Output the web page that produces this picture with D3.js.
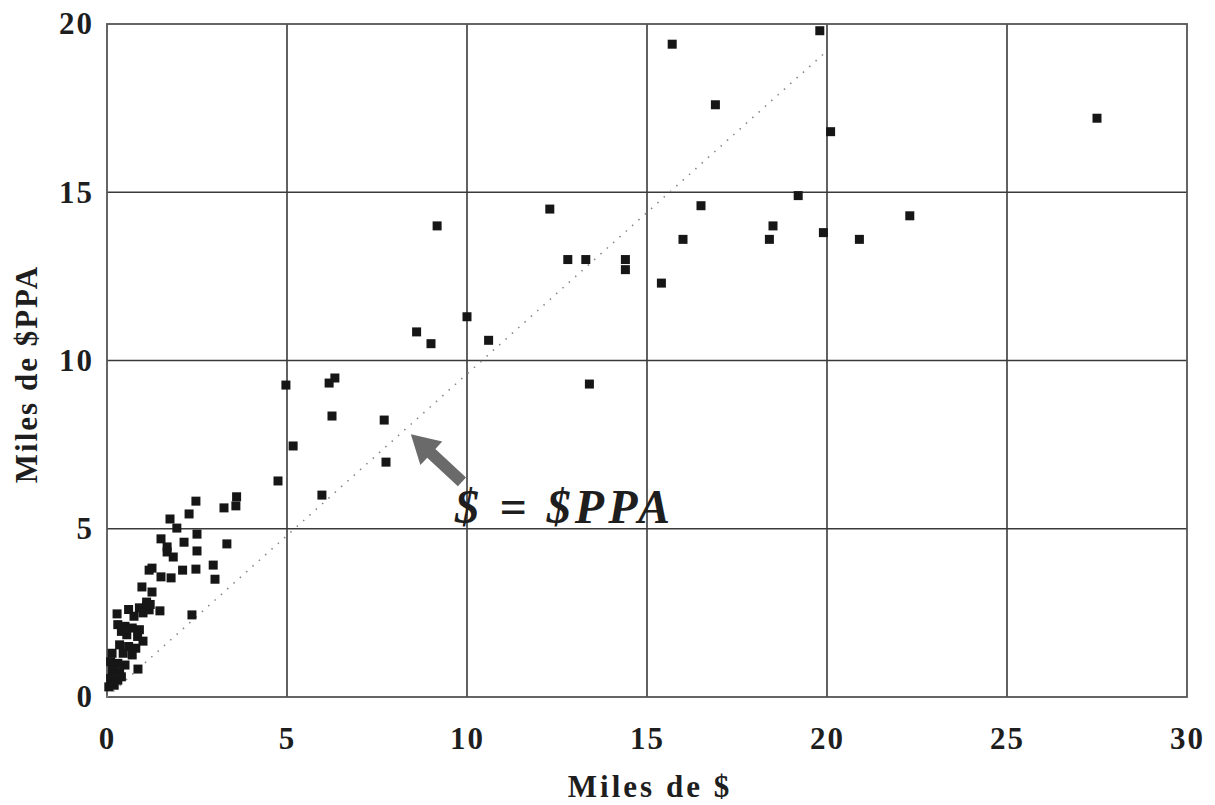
<!DOCTYPE html>
<html>
<head>
<meta charset="utf-8">
<script src="https://cdn.jsdelivr.net/npm/d3@7"></script>
<style>
  body { margin: 0; background: #fff; }
  svg { display: block; }
  .tick text { font-family: "Liberation Serif", "Times New Roman", serif; font-weight: bold; letter-spacing: 2px; }
</style>
</head>
<body>
<svg id="canvas" width="1215" height="805"></svg>
<script>
// miles de $ (x) vs miles de $PPA (y)
const xValues = [
  19.8, 15.7, 16.9, 27.5, 20.1, 19.2, 12.3, 16.5, 22.3, 9.17, 18.5, 16.0, 18.4, 20.9, 19.9,
  12.8, 13.3, 14.4, 14.4, 15.4, 8.6, 9.0, 10.0, 10.6, 13.4,
  4.97, 6.17, 6.33, 6.25, 7.7, 5.17, 7.75, 4.75, 5.97,
  2.47, 3.6, 3.25, 3.58, 2.28, 1.75, 1.94, 2.5, 1.5, 2.14, 3.33, 1.67, 2.5, 1.67, 1.84,
  2.95, 1.25, 1.17, 2.1, 2.47, 1.5, 1.78, 3.0, 0.97, 1.25, 1.1, 1.47, 1.17, 2.36, 0.28,
  0.6, 0.9, 1.1, 0.75, 1.0, 1.2,
  0.3, 0.5, 0.7, 0.9, 0.55, 0.85, 0.4, 1.0,
  0.35, 0.6, 0.8, 0.45, 0.7, 0.14,
  0.1, 0.3, 0.5, 0.15, 0.35, 0.1, 0.3, 0.2, 0.05, 0.4, 0.86
];
const yValues = [
  19.8, 19.4, 17.6, 17.2, 16.8, 14.9, 14.5, 14.6, 14.3, 14.0, 14.0, 13.6, 13.6, 13.6, 13.8,
  13.0, 13.0, 13.0, 12.7, 12.3, 10.85, 10.5, 11.3, 10.6, 9.3,
  9.27, 9.33, 9.48, 8.35, 8.23, 7.46, 6.98, 6.42, 6.0,
  5.82, 5.95, 5.62, 5.68, 5.44, 5.29, 5.02, 4.84, 4.7, 4.6, 4.55, 4.46, 4.34, 4.31, 4.16,
  3.92, 3.83, 3.77, 3.77, 3.8, 3.57, 3.54, 3.5, 3.27, 3.12, 2.82, 2.56, 2.59, 2.44, 2.47,
  2.6, 2.65, 2.7, 2.4, 2.5, 2.75,
  2.15, 2.1, 2.05, 2.0, 1.85, 1.8, 1.95, 1.66,
  1.55, 1.5, 1.45, 1.3, 1.25, 1.3,
  1.05, 1.0, 0.95, 0.8, 0.75, 0.55, 0.5, 0.35, 0.3, 0.6, 0.83
];
const xTicks = [0, 5, 10, 15, 20, 25, 30];
const yTicks = [0, 5, 10, 15, 20];
const refLine = [[0, 0], [20, 19.2]];
const arrowTip = [8.44, 7.81];
const arrowTail = [9.86, 6.39];

const margin = { top: 24, right: 28, bottom: 108, left: 107 };
const width = 1215, height = 805;

let canvas = d3.select("#canvas");

let x = d3.scaleLinear().domain([0, 30]).range([margin.left, width - margin.right]);
let y = d3.scaleLinear().domain([0, 20]).range([height - margin.bottom, margin.top]);

// grid
canvas.append("g")
  .selectAll("line.vx")
  .data(xTicks.slice(1, -1))
  .enter()
  .append("line")
  .attr("x1", (d) => x(d)).attr("x2", (d) => x(d))
  .attr("y1", y(0)).attr("y2", y(20))
  .attr("stroke", "#3a3a3a").attr("stroke-width", 1.6);

canvas.append("g")
  .selectAll("line.hy")
  .data(yTicks.slice(1, -1))
  .enter()
  .append("line")
  .attr("x1", x(0)).attr("x2", x(30))
  .attr("y1", (d) => y(d)).attr("y2", (d) => y(d))
  .attr("stroke", "#3a3a3a").attr("stroke-width", 1.6);

canvas.append("rect")
  .attr("x", x(0)).attr("y", y(20))
  .attr("width", x(30) - x(0)).attr("height", y(0) - y(20))
  .attr("fill", "none").attr("stroke", "#555").attr("stroke-width", 1.8);

// axes (labels only)
let xAxis = canvas.append("g")
  .attr("transform", `translate(0,${y(0)})`)
  .call(d3.axisBottom(x).tickValues(xTicks).tickSize(0).tickPadding(30));
xAxis.select(".domain").remove();
xAxis.selectAll("text").attr("font-size", 31).attr("fill", "#1e1e1e");

let yAxis = canvas.append("g")
  .attr("transform", `translate(${x(0)},0)`)
  .call(d3.axisLeft(y).tickValues(yTicks).tickSize(0).tickPadding(13));
yAxis.select(".domain").remove();
yAxis.selectAll("text").attr("font-size", 31).attr("fill", "#1e1e1e");

// reference line $ = $PPA
canvas.append("line")
  .attr("x1", x(refLine[0][0])).attr("y1", y(refLine[0][1]))
  .attr("x2", x(refLine[1][0])).attr("y2", y(refLine[1][1]))
  .attr("stroke", "#888").attr("stroke-width", 1.6)
  .attr("stroke-dasharray", "1.5,7");

// points
canvas.append("g")
  .selectAll("rect")
  .data(xValues.map((v, i) => [v, yValues[i]]))
  .enter()
  .append("rect")
  .attr("x", (d) => x(d[0]) - 4.5)
  .attr("y", (d) => y(d[1]) - 4.5)
  .attr("width", 9).attr("height", 9)
  .attr("fill", "#161616");

// arrow
let tx = x(arrowTip[0]), ty = y(arrowTip[1]);
let sx = x(arrowTail[0]), sy = y(arrowTail[1]);
let ang = Math.atan2(ty - sy, tx - sx);
let len = Math.hypot(tx - sx, ty - sy);
let headLen = 28, headW = 16, shaftW = 6;
let pts = [
  [0, -shaftW], [len - headLen, -shaftW], [len - headLen, -headW],
  [len, 0], [len - headLen, headW], [len - headLen, shaftW], [0, shaftW]
];
canvas.append("polygon")
  .attr("points", pts.map((p) => p.join(",")).join(" "))
  .attr("transform", `translate(${sx},${sy}) rotate(${ang * 180 / Math.PI})`)
  .attr("fill", "#6a6a6a");

canvas.append("text")
  .attr("x", 455).attr("y", 523)
  .attr("font-family", "Liberation Serif, Times New Roman, serif")
  .attr("font-style", "italic").attr("font-weight", "bold")
  .attr("font-size", 48).attr("fill", "#1e1e1e")
  .attr("textLength", 215).attr("lengthAdjust", "spacing")
  .attr("xml:space", "preserve")
  .text("$ = $PPA");

// axis titles
canvas.append("text")
  .attr("x", 650).attr("y", 797)
  .attr("text-anchor", "middle")
  .attr("font-family", "Liberation Serif, Times New Roman, serif")
  .attr("font-weight", "bold").attr("font-size", 31).attr("fill", "#1e1e1e")
  .attr("letter-spacing", 3)
  .text("Miles de $");

canvas.append("text")
  .attr("transform", `translate(37,374) rotate(-90)`)
  .attr("text-anchor", "middle")
  .attr("font-family", "Liberation Serif, Times New Roman, serif")
  .attr("font-weight", "bold").attr("font-size", 31).attr("fill", "#1e1e1e")
  .attr("letter-spacing", 2)
  .text("Miles de $PPA");
</script>
</body>
</html>
